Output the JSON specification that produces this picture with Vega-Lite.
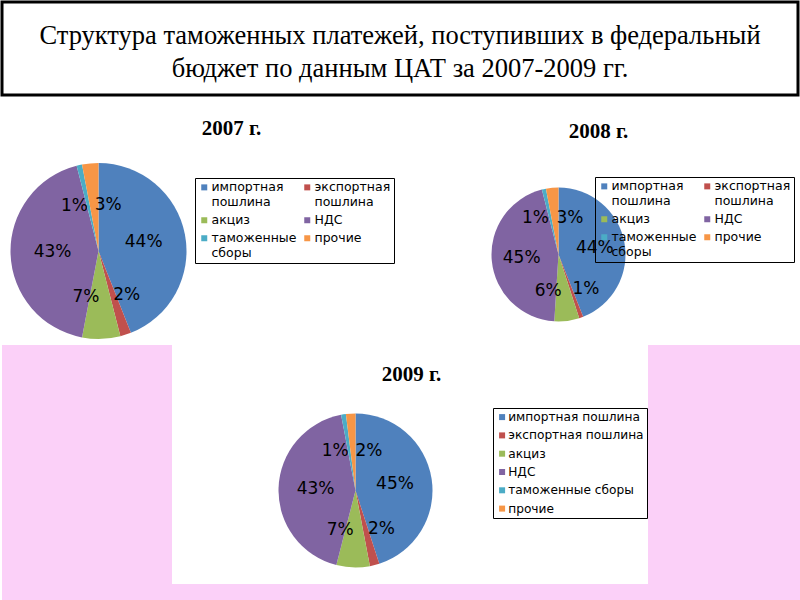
{
  "$schema": "https://vega.github.io/schema/vega-lite/v6.json",
  "padding": 0,
  "background": "white",
  "spacing": 0,
  "config": {"view": {"stroke": null}, "concat": {"spacing": 0}},
  "resolve": {"scale": {"color": "independent", "theta": "independent"}, "legend": {"color": "independent"}},
  "datasets": {
    "y2007": [
      {"cat": "импортная пошлина", "v": 0.44, "i": 1},
      {"cat": "экспортная пошлина", "v": 0.02, "i": 2},
      {"cat": "акциз", "v": 0.07, "i": 3},
      {"cat": "НДС", "v": 0.43, "i": 4},
      {"cat": "таможенные сборы", "v": 0.01, "i": 5},
      {"cat": "прочие", "v": 0.03, "i": 6}
    ],
    "y2008": [
      {"cat": "импортная пошлина", "v": 0.44, "i": 1},
      {"cat": "экспортная пошлина", "v": 0.01, "i": 2},
      {"cat": "акциз", "v": 0.06, "i": 3},
      {"cat": "НДС", "v": 0.45, "i": 4},
      {"cat": "таможенные сборы", "v": 0.01, "i": 5},
      {"cat": "прочие", "v": 0.03, "i": 6}
    ],
    "y2009": [
      {"cat": "импортная пошлина", "v": 0.45, "i": 1},
      {"cat": "экспортная пошлина", "v": 0.02, "i": 2},
      {"cat": "акциз", "v": 0.07, "i": 3},
      {"cat": "НДС", "v": 0.43, "i": 4},
      {"cat": "таможенные сборы", "v": 0.01, "i": 5},
      {"cat": "прочие", "v": 0.02, "i": 6}
    ]
  },
  "vconcat": [
    {
      "data": {"values": [{}]},
      "width": 796,
      "height": 93,
      "view": {"stroke": "black", "strokeWidth": 3, "fill": "white"},
      "mark": {"type": "text", "text": ["Структура таможенных платежей, поступивших в федеральный", "бюджет по данным ЦАТ за 2007-2009 гг."], "font": "Liberation Serif", "fontSize": 26.5, "lineHeight": 33, "align": "center", "baseline": "middle", "color": "black", "dy": -13},
      "encoding": {}
    },
    {
      "data": {"values": [{}]},
      "width": 100,
      "height": 21,
      "mark": {"type": "rect", "fill": "white", "opacity": 0},
      "encoding": {}
    },
    {
      "hconcat": [
        {
          "data": {"name": "y2007"},
          "width": 193,
          "height": 174,
          "title": {"text": "2007 г.", "font": "Liberation Serif", "fontSize": 21, "fontWeight": "bold", "color": "black", "anchor": "middle", "dx": 133, "offset": 24},
          "encoding": {
            "theta": {"field": "v", "type": "quantitative", "stack": true},
            "order": {"field": "i", "type": "quantitative"}
          },
          "layer": [
            {
              "mark": {"type": "arc", "radius": 88},
              "encoding": {
                "color": {"field": "cat", "type": "nominal",
                  "scale": {"domain": ["импортная пошлина", "акциз", "таможенные сборы", "экспортная пошлина", "НДС", "прочие"], "range": ["#4F81BD", "#9BBB59", "#4BACC6", "#C0504D", "#8064A2", "#F79646"]},
                  "legend": {"title": null, "orient": "none", "legendX": 193, "legendY": 14, "columns": 2, "symbolType": "square", "symbolSize": 36, "symbolStrokeWidth": 0, "labelFont": "DejaVu Sans", "labelFontSize": 12.5, "labelColor": "black", "labelExpr": "split(datum.label, ' ')", "labelLimit": 200, "strokeColor": "black", "padding": 3, "rowPadding": 5, "columnPadding": 4, "labelOffset": 1, "encode": {"labels": {"update": {"lineHeight": {"value": 15}}}}}
                }
              }
            },
            {
              "mark": {"type": "text", "radius": 46, "font": "DejaVu Sans", "fontSize": 17, "color": "black"},
              "encoding": {"detail": {"field": "cat"}, "text": {"condition": {"test": "datum.cat === 'импортная пошлина' || datum.cat === 'НДС'", "field": "v", "type": "quantitative", "format": ".0%"}, "value": ""}}
            },
            {
              "mark": {"type": "text", "radius": 46, "font": "DejaVu Sans", "fontSize": 17, "color": "black", "dx": -14},
              "encoding": {"detail": {"field": "cat"}, "text": {"condition": {"test": "datum.cat === 'акциз' || datum.cat === 'таможенные сборы'", "field": "v", "type": "quantitative", "format": ".0%"}, "value": ""}}
            },
            {
              "mark": {"type": "text", "radius": 46, "font": "DejaVu Sans", "fontSize": 17, "color": "black", "dx": 14},
              "encoding": {"detail": {"field": "cat"}, "text": {"condition": {"test": "datum.cat === 'экспортная пошлина' || datum.cat === 'прочие'", "field": "v", "type": "quantitative", "format": ".0%"}, "value": ""}}
            }
          ]
        },
        {
          "data": {"name": "y2008"},
          "width": 327,
          "height": 181,
          "title": {"text": "2008 г.", "font": "Liberation Serif", "fontSize": 21, "fontWeight": "bold", "color": "black", "anchor": "middle", "dx": 40, "offset": 22},
          "encoding": {
            "theta": {"field": "v", "type": "quantitative", "stack": true},
            "order": {"field": "i", "type": "quantitative"}
          },
          "layer": [
            {
              "mark": {"type": "arc", "radius": 67},
              "encoding": {
                "color": {"field": "cat", "type": "nominal",
                  "scale": {"domain": ["импортная пошлина", "акциз", "таможенные сборы", "экспортная пошлина", "НДС", "прочие"], "range": ["#4F81BD", "#9BBB59", "#4BACC6", "#C0504D", "#8064A2", "#F79646"]},
                  "legend": {"title": null, "orient": "none", "legendX": 200, "legendY": 13, "columns": 2, "symbolType": "square", "symbolSize": 36, "symbolStrokeWidth": 0, "labelFont": "DejaVu Sans", "labelFontSize": 12.5, "labelColor": "black", "labelExpr": "split(datum.label, ' ')", "labelLimit": 200, "strokeColor": "black", "padding": 3, "rowPadding": 5, "columnPadding": 4, "labelOffset": 1, "encode": {"labels": {"update": {"lineHeight": {"value": 15}}}}}
                }
              }
            },
            {
              "mark": {"type": "text", "radius": 37, "font": "DejaVu Sans", "fontSize": 17, "color": "black"},
              "encoding": {"detail": {"field": "cat"}, "text": {"condition": {"test": "datum.cat === 'импортная пошлина' || datum.cat === 'НДС'", "field": "v", "type": "quantitative", "format": ".0%"}, "value": ""}}
            },
            {
              "mark": {"type": "text", "radius": 37, "font": "DejaVu Sans", "fontSize": 17, "color": "black", "dx": -15},
              "encoding": {"detail": {"field": "cat"}, "text": {"condition": {"test": "datum.cat === 'акциз' || datum.cat === 'таможенные сборы'", "field": "v", "type": "quantitative", "format": ".0%"}, "value": ""}}
            },
            {
              "mark": {"type": "text", "radius": 37, "font": "DejaVu Sans", "fontSize": 17, "color": "black", "dx": 15},
              "encoding": {"detail": {"field": "cat"}, "text": {"condition": {"test": "datum.cat === 'экспортная пошлина' || datum.cat === 'прочие'", "field": "v", "type": "quantitative", "format": ".0%"}, "value": ""}}
            }
          ]
        }
      ],
      "resolve": {"scale": {"color": "independent", "theta": "independent"}, "legend": {"color": "independent"}}
    },
    {
      "hconcat": [
        {
          "data": {"values": [{}]},
          "width": 170,
          "height": 239,
          "mark": {"type": "rect", "fill": "#fbd0f8"},
          "encoding": {}
        },
        {
          "vconcat": [
            {
              "data": {"values": [{}]},
              "width": 100,
              "height": 19,
              "mark": {"type": "rect", "fill": "white", "opacity": 0},
              "encoding": {}
            },
            {
              "data": {"name": "y2009"},
              "width": 367,
              "height": 185,
              "title": {"text": "2009 г.", "font": "Liberation Serif", "fontSize": 21, "fontWeight": "bold", "color": "black", "anchor": "middle", "dx": 56, "offset": 13},
              "encoding": {
                "theta": {"field": "v", "type": "quantitative", "stack": true},
                "order": {"field": "i", "type": "quantitative"}
              },
              "layer": [
                {
                  "mark": {"type": "arc", "radius": 77},
                  "encoding": {
                    "color": {"field": "cat", "type": "nominal",
                      "scale": {"domain": ["импортная пошлина", "экспортная пошлина", "акциз", "НДС", "таможенные сборы", "прочие"], "range": ["#4F81BD", "#C0504D", "#9BBB59", "#8064A2", "#4BACC6", "#F79646"]},
                      "legend": {"title": null, "orient": "none", "legendX": 321, "legendY": 10, "symbolType": "square", "symbolSize": 36, "symbolStrokeWidth": 0, "labelFont": "DejaVu Sans", "labelFontSize": 12.2, "labelColor": "black", "labelLimit": 200, "strokeColor": "black", "padding": 3, "rowPadding": 5.3, "labelOffset": 0}
                    }
                  }
                },
                {
                  "mark": {"type": "text", "radius": 40, "font": "DejaVu Sans", "fontSize": 17, "color": "black"},
                  "encoding": {"detail": {"field": "cat"}, "text": {"condition": {"test": "datum.cat === 'импортная пошлина' || datum.cat === 'НДС'", "field": "v", "type": "quantitative", "format": ".0%"}, "value": ""}}
                },
                {
                  "mark": {"type": "text", "radius": 40, "font": "DejaVu Sans", "fontSize": 17, "color": "black", "dx": -14},
                  "encoding": {"detail": {"field": "cat"}, "text": {"condition": {"test": "datum.cat === 'акциз' || datum.cat === 'таможенные сборы'", "field": "v", "type": "quantitative", "format": ".0%"}, "value": ""}}
                },
                {
                  "mark": {"type": "text", "radius": 40, "font": "DejaVu Sans", "fontSize": 17, "color": "black", "dx": 16},
                  "encoding": {"detail": {"field": "cat"}, "text": {"condition": {"test": "datum.cat === 'экспортная пошлина' || datum.cat === 'прочие'", "field": "v", "type": "quantitative", "format": ".0%"}, "value": ""}}
                }
              ]
            }
          ],
          "resolve": {"scale": {"color": "independent", "theta": "independent"}, "legend": {"color": "independent"}}
        },
        {
          "data": {"values": [{}]},
          "width": 155,
          "height": 239,
          "mark": {"type": "rect", "fill": "#fbd0f8"},
          "encoding": {}
        }
      ],
      "resolve": {"scale": {"color": "independent", "theta": "independent"}, "legend": {"color": "independent"}}
    },
    {
      "data": {"values": [{}]},
      "width": 800,
      "height": 18,
      "mark": {"type": "rect", "fill": "#fbd0f8"},
      "encoding": {}
    }
  ]
}
